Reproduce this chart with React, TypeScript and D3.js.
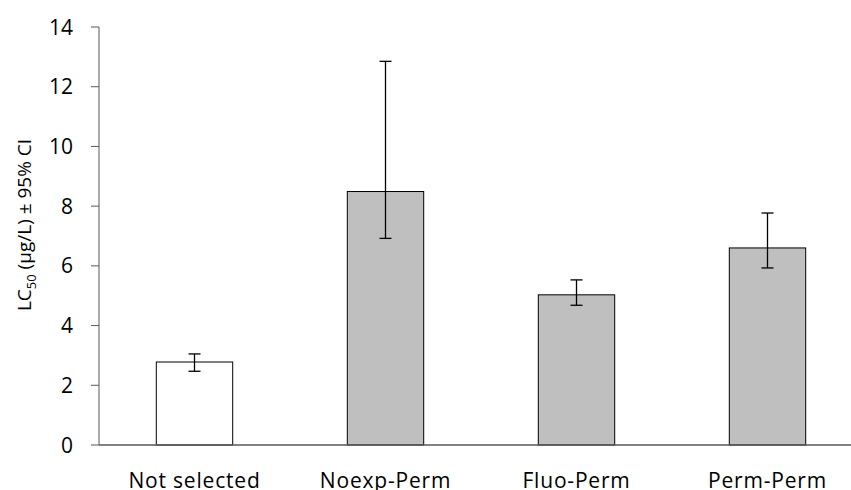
import React from "react";
import * as d3 from "d3";

const categories = ["Not selected", "Noexp-Perm", "Fluo-Perm", "Perm-Perm"];
const values = [2.78, 8.49, 5.03, 6.6];
const lower = [2.47, 6.92, 4.68, 5.93];
const upper = [3.05, 12.85, 5.53, 7.77];
const fills = ["#FFFFFF", "#BFBFBF", "#BFBFBF", "#BFBFBF"];
const yTicks = [0, 2, 4, 6, 8, 10, 12, 14];

const W = 851, H = 490;
const left = 99, right = 863, top = 27, bottom = 445;
const font = "'Open Sans', sans-serif";

export default function App() {
  const x = d3.scaleBand().domain(categories).range([left, right]).paddingInner(0.6).paddingOuter(0.3);
  const y = d3.scaleLinear().domain([0, 14]).range([bottom, top]);
  const bw = x.bandwidth();
  return (
    <svg width={W} height={H} style={{ position: "absolute", left: 0, top: 0, background: "#fff" }}>
      {categories.map((c, i) => (
        <rect key={c} x={x(c)!} y={y(values[i])} width={bw} height={y(0) - y(values[i])}
          fill={fills[i]} stroke="#000" strokeWidth={1} />
      ))}
      {categories.map((c, i) => {
        const cx = x(c)! + bw / 2;
        return (
          <g key={"e" + c} stroke="#000" strokeWidth={1.3}>
            <line x1={cx} x2={cx} y1={y(lower[i])} y2={y(upper[i])} />
            <line x1={cx - 6} x2={cx + 6} y1={y(lower[i])} y2={y(lower[i])} />
            <line x1={cx - 6} x2={cx + 6} y1={y(upper[i])} y2={y(upper[i])} />
          </g>
        );
      })}
      <line x1={left} x2={left} y1={top} y2={bottom} stroke="#595959" strokeWidth={1} />
      <line x1={left} x2={W} y1={bottom} y2={bottom} stroke="#595959" strokeWidth={1.3} />
      {yTicks.map((t) => (
        <g key={t}>
          <line x1={left - 8} x2={left} y1={y(t)} y2={y(t)} stroke="#595959" />
          <text x={73} y={y(t)} dy="0.36em" textAnchor="end" fontFamily={font} fontSize={21} fill="#000">{t}</text>
        </g>
      ))}
      {categories.map((c) => (
        <text key={"l" + c} x={x(c)! + bw / 2} y={488} textAnchor="middle" fontFamily={font} fontSize={21} letterSpacing={0.8} fill="#000">{c}</text>
      ))}
      <text transform={`translate(31,225) rotate(-90)`} textAnchor="middle" fontFamily={font} fontSize={19} fill="#000">
        LC<tspan fontSize={13} dy={5}>50</tspan><tspan dy={-5}> (µg/L) ± 95% CI</tspan>
      </text>
    </svg>
  );
}
